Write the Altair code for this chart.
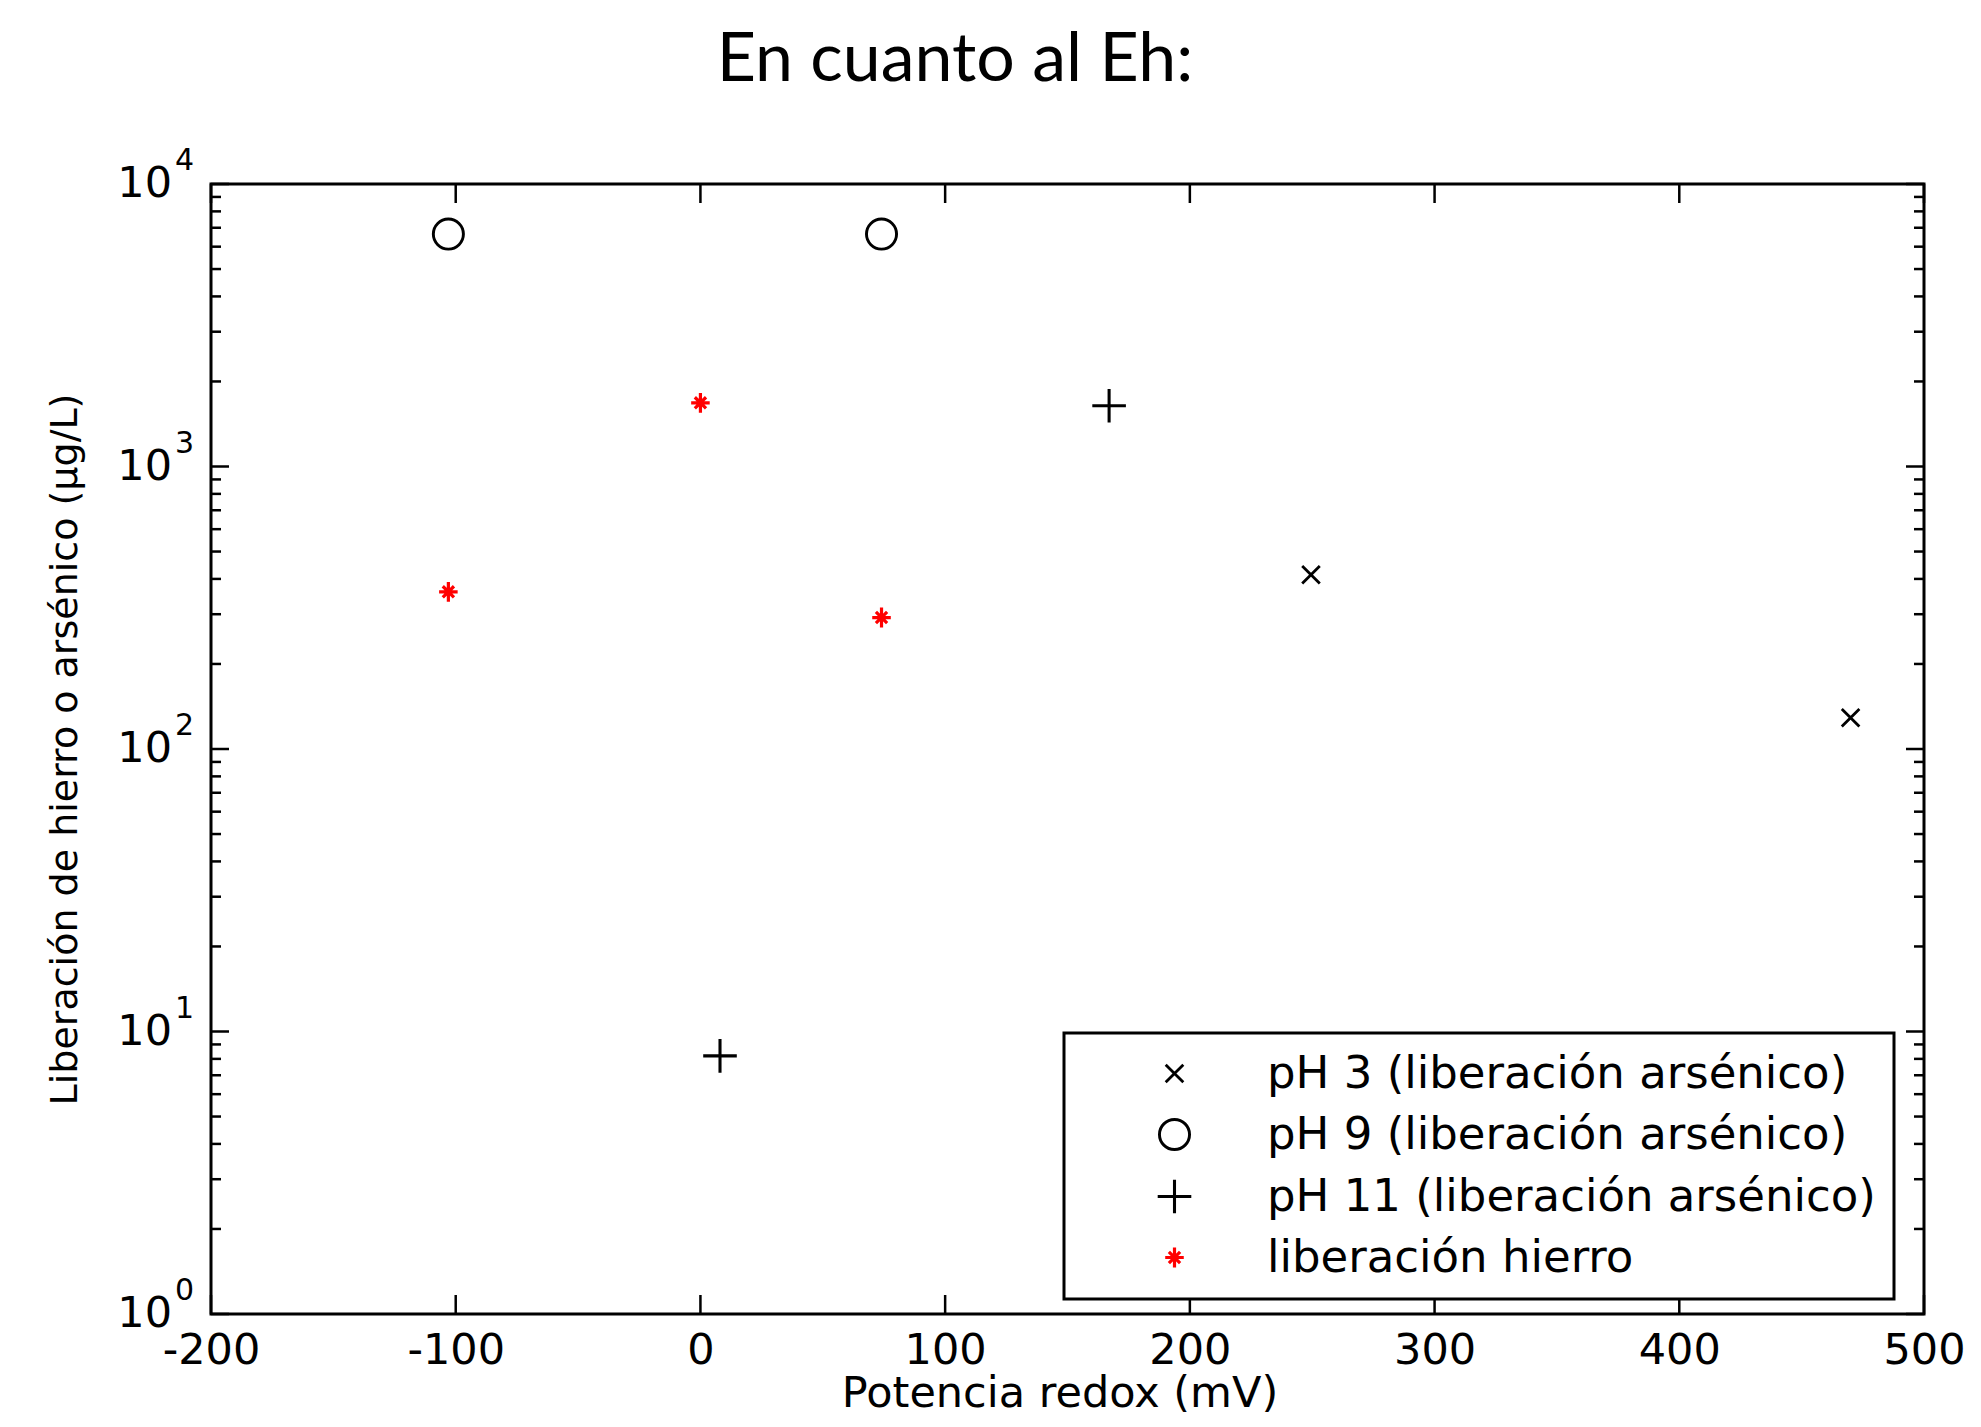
import altair as alt
import pandas as pd

title_text = "En cuanto al Eh:"
x_title = "Potencia redox (mV)"
y_title = "Liberación de hierro o arsénico (µg/L)"

series_names = [
    "pH 3 (liberación arsénico)",
    "pH 9 (liberación arsénico)",
    "pH 11 (liberación arsénico)",
    "liberación hierro",
]

ph3_x = [249.5, 470]
ph3_y = [414, 129]
ph9_x = [-103, 74]
ph9_y = [6650, 6650]
ph11_x = [167, 8]
ph11_y = [1640, 8.2]
fe_x = [-103, 0, 74]
fe_y = [360, 1680, 292]

x_ticks = [-200, -100, 0, 100, 200, 300, 400, 500]
y_major = [1, 10, 100, 1000, 10000]
y_exponents = ["0", "1", "2", "3", "4"]
y_minor = [m * 10 ** k for k in range(4) for m in range(2, 10)]

W, H = 1713, 1130
FONT = "DejaVu Sans"

rows = []
for name, xs, ys in [
    (series_names[0], ph3_x, ph3_y),
    (series_names[1], ph9_x, ph9_y),
    (series_names[2], ph11_x, ph11_y),
    (series_names[3], fe_x, fe_y),
]:
    for a, b in zip(xs, ys):
        rows.append({"x": a, "y": b, "serie": name})
pts = pd.DataFrame(rows)

xscale = alt.Scale(domain=[-200, 500], nice=False, zero=False)
yscale = alt.Scale(type="log", domain=[1, 10000], nice=False)

shape_x = "M -0.55 -0.55 L 0.55 0.55 M -0.55 0.55 L 0.55 -0.55"
shape_o = "M 0.94 0 A 0.94 0.94 0 1 1 -0.94 0 A 0.94 0.94 0 1 1 0.94 0 Z"
shape_plus = "M -1.05 0 L 1.05 0 M 0 -1.05 L 0 1.05"
shape_star = "M -0.58 0 L 0.58 0 M 0 -0.62 L 0 0.62 M -0.35 -0.35 L 0.35 0.35 M -0.35 0.35 L 0.35 -0.35"

x_axis = alt.Axis(values=x_ticks, labelExpr="'' + datum.value", title=x_title,
                  labelFont=FONT, labelFontSize=43, labelColor="black",
                  labelPadding=15, tickSize=0, domain=False, grid=False,
                  titleFont=FONT, titleFontSize=43, titleFontWeight="normal",
                  titleColor="black", titlePadding=0, labelFlush=False,
                  titleX=W / 2 - 8, titleAlign="center", titleAnchor="middle")
y_axis = alt.Axis(labels=False, ticks=False, domain=False, grid=False,
                  title=y_title, titleFont=FONT, titleFontSize=38,
                  titleFontWeight="normal", titleColor="black", titlePadding=127)

points = alt.Chart(pts).mark_point(filled=False, size=1024, opacity=1).encode(
    x=alt.X("x:Q", scale=xscale, axis=x_axis),
    y=alt.Y("y:Q", scale=yscale, axis=y_axis),
    shape=alt.Shape("serie:N", scale=alt.Scale(domain=series_names,
                    range=[shape_x, shape_o, shape_plus, shape_star]),
                    legend=alt.Legend(title=None)),
    color=alt.Color("serie:N", scale=alt.Scale(domain=series_names,
                    range=["black", "black", "black", "#ff0000"]),
                    legend=alt.Legend(title=None)),
    strokeWidth=alt.StrokeWidth("serie:N", scale=alt.Scale(domain=series_names,
                    range=[2.8, 3.2, 3.5, 5.5]), legend=alt.Legend(title=None)),
)

xt = pd.DataFrame({"x": x_ticks})
tick_bottom = alt.Chart(xt).mark_rule(color="black", strokeWidth=2.5).encode(
    x=alt.X("x:Q", scale=xscale, axis=x_axis), y=alt.value(H - 19), y2=alt.value(H))
tick_top = alt.Chart(xt).mark_rule(color="black", strokeWidth=2.5).encode(
    x=alt.X("x:Q", scale=xscale, axis=x_axis), y=alt.value(0), y2=alt.value(19))

ymaj = pd.DataFrame({"y": y_major, "e": y_exponents, "b": ["10"] * len(y_major)})
ymin = pd.DataFrame({"y": y_minor})

def yticks(df, length):
    left = alt.Chart(df).mark_rule(color="black", strokeWidth=2.5).encode(
        y=alt.Y("y:Q", scale=yscale, axis=y_axis), x=alt.value(0), x2=alt.value(length))
    right = alt.Chart(df).mark_rule(color="black", strokeWidth=2.5).encode(
        y=alt.Y("y:Q", scale=yscale, axis=y_axis), x=alt.value(W - length), x2=alt.value(W))
    return [left, right]

ylab_base = alt.Chart(ymaj).mark_text(align="right", baseline="middle", font=FONT,
                                       fontSize=43, color="black").encode(
    y=alt.Y("y:Q", scale=yscale, axis=y_axis), x=alt.value(-39), text="b:N")
ylab_exp = alt.Chart(ymaj).mark_text(align="left", baseline="middle", font=FONT,
                                      fontSize=30, color="black", dy=-23).encode(
    y=alt.Y("y:Q", scale=yscale, axis=y_axis), x=alt.value(-36), text="e:N")

title = alt.Chart(pd.DataFrame({"t": [title_text]})).mark_text(
    align="center", baseline="alphabetic", font="Lato", fontSize=68, color="black").encode(
    x=alt.value(744), y=alt.value(-103), text="t:N")

chart = alt.layer(
    points, tick_bottom, tick_top, *yticks(ymaj, 18), *yticks(ymin, 10),
    ylab_base, ylab_exp, title,
).properties(
    width=W, height=H,
    autosize=alt.AutoSizeParams(type="none"),
    padding={"left": 203, "top": 176, "right": 49, "bottom": 100},
    background="white",
).configure_view(
    stroke="black", strokeWidth=3,
).configure_legend(
    orient="none", legendX=853, legendY=849, padding=18,
    strokeColor="black", strokeWidth=3, fillColor="white",
    labelFont=FONT, labelFontSize=45, labelColor="black",
    symbolSize=1024, symbolOffset=70, labelOffset=70, rowPadding=15,
    labelLimit=1000,
)

chart.save("out.html", embed_options={"renderer": "svg", "actions": False})
